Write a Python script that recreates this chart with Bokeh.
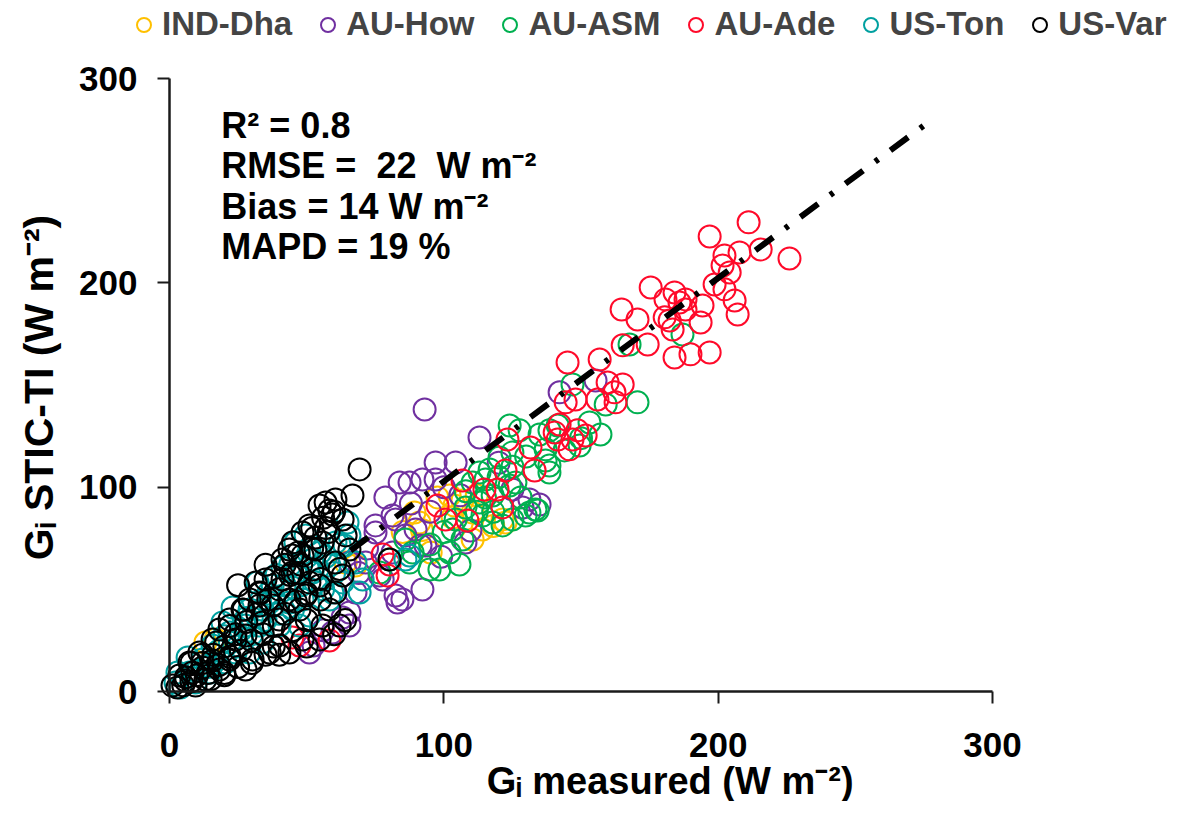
import math
from bokeh.plotting import figure
from bokeh.models import Range1d, FixedTicker, Label, Legend, LegendItem
from bokeh.embed import file_html
from bokeh.resources import INLINE

# ---------------- data ----------------
ind_dha_x = [91.1, 102.1, 103.9, 106.8, 110.5, 110.5, 114.1, 122.5, 89.3, 95.2, 121.4, 67.8, 13.1, 16.8,
             64.2, 103.2, 97.7, 118.0, 112.0, 92.0, 85.0]
ind_dha_y = [82.7, 95.9, 91.0, 93.5, 87.6, 74.4, 79.3, 82.7, 87.6, 68.0, 84.2, 61.7, 24.0, 25.5,
             63.1, 85.2, 95.0, 81.0, 96.0, 79.0, 78.0]

au_how_x = [93.0, 113.0, 104.3, 97.0, 97.0, 92.2, 87.5, 83.9, 78.7, 75.1, 81.3, 89.7, 86.0, 91.5, 93.3,
            92.2, 84.9, 83.1, 77.7, 131.2, 134.9, 128.7, 125.0, 109.7, 107.9, 142.2, 155.3, 75.1, 71.5,
            65.6, 67.8, 65.6, 65.6, 51.0, 82.4, 81.3, 76.6, 82.4, 59.4, 63.1, 52.5, 56.0, 100.0, 106.0,
            88.0, 95.0, 72.0, 69.0, 120.0, 99.0]
au_how_y = [138.0, 124.3, 112.1, 112.1, 103.8, 103.8, 102.3, 102.3, 95.0, 81.3, 86.1, 79.3, 76.4, 71.5, 71.5,
            49.9, 45.0, 43.6, 54.8, 94.0, 91.5, 90.1, 98.9, 78.8, 72.9, 146.4, 152.2, 77.8, 63.1,
            63.1, 48.5, 38.7, 32.3, 19.1, 84.2, 68.0, 56.8, 47.0, 28.9, 36.2, 22.5, 30.0, 100.0, 96.0,
            92.0, 88.0, 70.0, 58.0, 112.0, 66.0]

au_asm_x = [124.0, 127.6, 134.9, 138.5, 137.1, 137.1, 125.0, 120.3, 116.7, 113.0, 110.5, 115.2, 124.0, 126.1,
            117.8, 113.0, 107.9, 104.3, 114.1, 117.8, 121.4, 125.0, 129.8, 134.2, 103.2, 106.8, 102.1,
            105.7, 98.4, 94.8, 88.6, 87.5, 86.0, 80.2, 76.6, 146.9, 170.6, 159.0, 153.1, 157.1, 149.5,
            138.5, 138.5, 133.4, 131.2, 187.0, 167.7, 141.5, 115.0, 120.0, 125.0, 130.0, 108.0, 112.0,
            128.0, 100.0, 95.0, 118.0, 144.0, 150.0]
au_asm_y = [130.2, 127.8, 125.8, 127.8, 118.5, 113.1, 117.0, 114.5, 108.7, 107.2, 102.3, 103.8, 100.8, 102.3,
            95.9, 92.5, 90.1, 84.2, 86.1, 82.7, 81.3, 84.2, 86.1, 88.6, 79.3, 74.4, 68.0,
            62.2, 59.7, 59.7, 68.0, 63.1, 74.4, 64.6, 58.2, 150.3, 141.5, 140.5, 131.7, 125.8, 120.4,
            110.6, 107.2, 89.1, 87.6, 174.7, 169.8, 130.2, 95.0, 105.0, 110.0, 115.0, 98.0, 88.0,
            95.0, 78.0, 72.0, 88.0, 118.0, 124.0]

au_ade_x = [211.1, 196.9, 226.0, 215.5, 207.8, 202.3, 201.6, 204.2, 198.7, 202.3, 206.0, 207.1, 175.4, 180.8,
            184.1, 185.9, 188.1, 194.3, 193.6, 183.4, 170.6, 174.3, 184.1, 189.9, 196.9, 180.5, 188.1,
            164.8, 182.3, 165.2, 156.8, 145.1, 159.7, 165.2, 162.2, 162.6, 156.0, 148.0, 144.4, 148.7,
            146.9, 151.7, 123.2, 131.6, 140.4, 141.5, 145.8, 142.2, 122.5, 133.1, 106.8, 114.8, 119.6,
            121.4, 97.7, 100.6, 108.6, 77.7, 79.5, 80.2, 47.4, 58.3, 44.8]
au_ade_y = [229.6, 222.7, 211.9, 216.3, 214.9, 213.4, 208.5, 205.1, 199.2, 196.8, 191.4, 184.5, 197.7, 191.9,
            195.3, 190.4, 187.0, 188.9, 180.6, 177.2, 182.1, 169.8, 163.5, 165.0, 165.9, 183.1, 191.9,
            187.0, 181.6, 169.4, 162.5, 161.0, 151.2, 150.3, 146.4, 141.5, 142.9, 142.9, 141.5, 127.8,
            123.3, 125.3, 123.3, 119.4, 126.8, 123.3, 118.5, 130.7, 108.2, 108.2, 103.3, 98.9, 98.9,
            90.1, 91.0, 84.2, 83.7, 67.1, 56.8, 62.2, 22.5, 25.0, 26.4]

us_ton_x = [64.9, 63.8, 60.5, 58.3, 63.1, 52.1, 53.2, 48.5, 58.3, 51.0, 43.7, 37.6, 29.2, 27.7, 21.9,
            24.1, 15.7, 12.0, 7.3, 2.2, 67.8, 70.4, 69.3, 49.6, 45.9, 36.5, 32.8, 40.1, 47.4, 33.9,
            29.2, 20.4, 14.6, 9.5, 65.6, 87.5, 86.0, 41.2, 32.1, 44.8, 23.0, 19.3, 6.6, 2.9, 52.1,
            59.4, 10.0, 14.0, 18.0, 22.0, 26.0, 30.0, 34.0, 38.0, 42.0, 46.0, 50.0, 54.0, 56.0, 60.0,
            25.0, 35.0, 45.0, 48.0, 40.0, 30.0, 4.0, 55.0, 36.0, 28.0, 44.0, 51.0, 57.0, 62.0, 39.0,
            33.0, 20.0, 16.0]
us_ton_y = [82.7, 71.5, 72.9, 61.7, 53.4, 64.6, 53.4, 45.0, 45.0, 37.2, 43.6, 51.9, 40.1, 32.3, 28.9,
            19.1, 22.5, 15.7, 9.3, 4.4, 63.1, 54.8, 48.5, 76.4, 72.9, 43.6, 32.3, 32.3, 32.3, 24.0,
            19.1, 14.2, 9.3, 4.4, 76.4, 66.6, 64.6, 60.7, 53.4, 50.9, 41.1, 33.8, 16.6, 9.3, 58.2,
            48.5, 10.0, 12.0, 20.0, 24.0, 30.0, 36.0, 40.0, 46.0, 52.0, 58.0, 66.0, 60.0, 50.0, 58.0,
            22.0, 35.0, 40.0, 52.0, 38.0, 28.0, 2.0, 68.0, 48.0, 36.0, 62.0, 70.0, 66.0, 72.0, 57.0,
            44.0, 27.0, 14.0]

us_var_x = [69.3, 66.7, 60.5, 56.9, 58.3, 54.7, 59.4, 63.1, 51.0, 48.5, 53.2, 55.8, 43.7, 44.8, 41.2,
            48.5, 52.1, 44.8, 41.2, 35.0, 31.4, 32.8, 29.2, 26.6, 21.9, 18.2, 15.7, 10.9, 7.3, 3.6,
            1.1, 64.2, 65.6, 60.5, 63.1, 60.5, 54.7, 49.6, 47.4, 58.3, 62.0, 55.8, 54.7, 48.5, 43.7,
            40.1, 36.5, 30.3, 27.7, 21.9, 18.2, 13.1, 9.5, 37.6, 40.1, 33.9, 27.7, 32.8, 24.1, 53.2,
            51.0, 43.7, 80.2, 2.9, 5.8, 8.4, 12.0, 15.7, 5.0, 6.0, 8.0, 10.0, 12.0, 14.0, 16.0, 18.0,
            20.0, 22.0, 24.0, 26.0, 28.0, 30.0, 32.0, 34.0, 36.0, 38.0, 40.0, 42.0, 44.0, 46.0, 48.0,
            50.0, 52.0, 55.0, 57.0, 45.0, 50.0, 55.0, 38.0, 35.0, 25.0, 20.0, 15.0,
            8.0, 12.0, 17.0, 22.0, 27.0, 33.0, 38.0, 42.0, 47.0, 52.0, 56.0, 60.0, 20.0, 30.0,
            40.0, 50.0, 60.0, 64.0, 35.0, 45.0, 25.0, 58.0, 62.0, 47.0]
us_var_y = [108.7, 95.9, 94.0, 92.5, 88.6, 91.0, 86.6, 84.2, 81.3, 77.8, 75.4, 72.9, 69.5, 66.6, 64.6,
            66.6, 59.7, 58.2, 54.8, 54.8, 53.4, 48.5, 45.0, 40.1, 35.2, 30.3, 25.5, 19.1, 14.2, 7.8,
            2.9, 76.4, 69.5, 63.1, 56.8, 48.5, 51.9, 47.0, 40.1, 40.1, 32.3, 32.3, 25.5, 25.5, 19.1,
            22.5, 19.1, 15.7, 10.8, 15.7, 10.8, 5.9, 2.9, 42.1, 35.2, 33.8, 27.4, 42.1, 25.5, 69.5,
            53.4, 45.0, 64.6, 2.0, 5.4, 9.3, 11.7, 15.2, 3.0, 7.0, 5.0, 8.0, 14.0, 9.0, 18.0, 13.0,
            22.0, 17.0, 28.0, 20.0, 34.0, 25.0, 38.0, 28.0, 45.0, 32.0, 50.0, 38.0, 57.0, 44.0, 62.0,
            48.0, 70.0, 55.0, 80.0, 30.0, 35.0, 45.0, 22.0, 18.0, 12.0, 9.0, 6.0,
            14.0, 18.0, 24.0, 32.0, 40.0, 48.0, 56.0, 62.0, 68.0, 80.0, 85.0, 88.0, 8.0, 14.0,
            18.0, 22.0, 28.0, 35.0, 62.0, 73.0, 52.0, 78.0, 60.0, 58.0]

fit_x = [66, 276]
fit_y = [69, 278]

series_names = ["IND-Dha", "AU-How", "AU-ASM", "AU-Ade", "US-Ton", "US-Var"]
series_colors = ["#FFC000", "#7030A0", "#00B050", "#FF0A2A", "#00A0A0", "#000000"]
series_x = [ind_dha_x, au_how_x, au_asm_x, au_ade_x, us_ton_x, us_var_x]
series_y = [ind_dha_y, au_how_y, au_asm_y, au_ade_y, us_ton_y, us_var_y]

ticks = [0, 100, 200, 300]
stats_lines = ["R² = 0.8", "RMSE = \u00a022 \u00a0W m⁻²", "Bias = 14 W m⁻²", "MAPD = 19 %"]
x_title = "Gᵢ measured (W m⁻²)"
y_title = "Gᵢ STIC-TI (W m⁻²)"

FONT = "Liberation Sans"

# ---------------- figure ----------------
# The frame covers the whole canvas; the axes are pinned at 0 with fixed_location
W, H = 1169, 801
FL, FR, FT, FB = 169, 992, 78, 691          # pixel positions of data 0..300
sx = (FR - FL) / 300.0
sy = (FB - FT) / 300.0
x_range = Range1d(-FL / sx, (W - FL) / sx)
y_range = Range1d(-(H - FB) / sy, FB / sy)

p = figure(width=W, height=H, x_range=x_range, y_range=y_range,
           output_backend="svg", toolbar_location=None,
           min_border_left=0, min_border_right=0, min_border_top=0, min_border_bottom=0)
p.outline_line_color = None
p.grid.visible = False
p.background_fill_color = "white"
p.border_fill_color = "white"

for ax in (p.xaxis[0], p.yaxis[0]):
    ax.fixed_location = 0
    ax.bounds = (0, 300)
    ax.ticker = FixedTicker(ticks=ticks)
    ax.minor_tick_line_color = None
    ax.major_tick_in = 0
    ax.major_tick_out = 12
    ax.major_tick_line_width = 2
    ax.major_tick_line_color = "#1a1a1a"
    ax.axis_line_width = 2.5
    ax.axis_line_color = "#1a1a1a"
    ax.major_label_text_font = FONT
    ax.major_label_text_font_style = "bold"
    ax.major_label_text_font_size = "35px"
    ax.major_label_text_color = "black"
p.xaxis[0].major_label_standoff = 29
p.yaxis[0].major_label_standoff = 20

renderers = []
for xs, ys, c in zip(series_x, series_y, series_colors):
    r = p.scatter(xs, ys, marker="circle", size=22, fill_color=None,
                  line_color=c, line_width=2)
    renderers.append(r)

p.line(fit_x, fit_y, line_color="black", line_width=6, line_dash="22 15 4 15")

legend = Legend(items=[LegendItem(label=n, renderers=[r]) for n, r in zip(series_names, renderers)],
                orientation="horizontal", location=(126, 758),
                glyph_width=35, glyph_height=35, label_standoff=1, spacing=18,
                padding=0, margin=0, border_line_alpha=0, background_fill_alpha=0,
                label_text_font=FONT, label_text_font_style="bold", label_text_font_size="33px",
                label_text_baseline="middle")
p.add_layout(legend, "center")

stat_y = [276.8, 257.2, 237.6, 218.0]
for t, yy in zip(stats_lines, stat_y):
    p.add_layout(Label(x=18.9, y=yy, text=t, text_font=FONT, text_font_style="bold",
                       text_font_size="36px", text_baseline="middle", text_align="left",
                       text_color="black"))

p.add_layout(Label(x=182.5, y=-43.6, text=x_title, text_font=FONT, text_font_style="bold",
                   text_font_size="38px", text_baseline="middle", text_align="center",
                   text_color="black"))
p.add_layout(Label(x=-47.5, y=148.8, text=y_title, text_font=FONT, text_font_style="bold",
                   text_font_size="41px", text_baseline="middle", text_align="center",
                   text_color="black", angle=math.pi / 2, angle_units="rad"))

open("out.html", "w").write(file_html(p, INLINE))
